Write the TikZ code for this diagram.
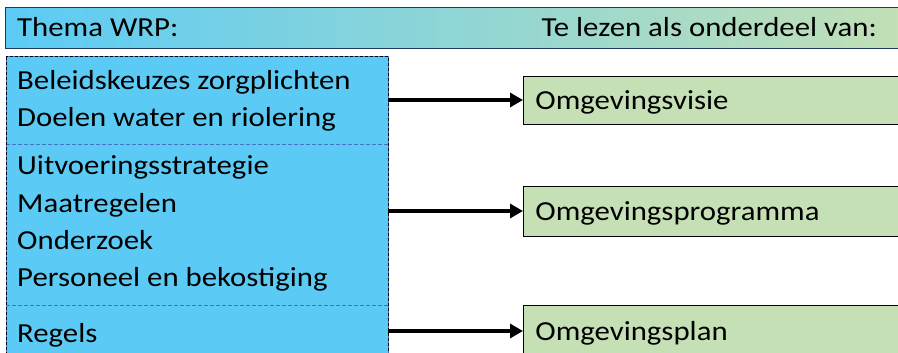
\documentclass[tikz,border=0pt]{standalone}
\usepackage{fontspec}
\setmainfont{Carlito}[FakeStretch=1.12]
\usetikzlibrary{arrows.meta}
\definecolor{skyfill}{HTML}{5BCBF5}
\definecolor{leaf}{HTML}{C5E0B4}
\definecolor{navy}{HTML}{1F3864}
\definecolor{divblue}{HTML}{4472C4}
\begin{document}
\begin{tikzpicture}[x=1pt,y=-1pt,
  txt/.style={anchor=base west, inner sep=0pt, font=\fontsize{27.5}{31}\selectfont},
  headbar/.style={draw=navy, line width=1.2pt, left color=skyfill, right color=leaf, minimum width=920pt, minimum height=41pt, anchor=north west, inner sep=0pt},
  section/.style={fill=skyfill, minimum width=382pt, anchor=north west, inner sep=0pt},
  divline/.style={draw=divblue, line width=1.2pt, dash pattern=on 4pt off 2pt},
  frameblue/.style={draw=divblue, line width=1pt},
  framedash/.style={draw=black, line width=1pt, dash pattern=on 3pt off 2pt},
  greenbox/.style={draw=black, line width=0.8pt, fill=leaf, anchor=west, inner xsep=12pt, inner ysep=0pt, text width=376pt, align=left, font=\fontsize{27.5}{31}\selectfont, text height=19pt, text depth=0pt},
  arr/.style={line width=3.5pt, -{Triangle[length=13pt,width=14pt]}}
]
\useasboundingbox (0,0) rectangle (898,353);
\clip (0,0) rectangle (898,353);
\fill[white] (0,0) rectangle (898,353);
% header
\node[headbar] (head) at (5,7) {};
\node[txt] (t1) at (17,37) {Thema WRP:};
\node[txt, anchor=base east] (t2) at (877,37) {Te lezen als onderdeel van:};
% left column
\node[section, minimum height=87pt] (s1) at (6,57) {};
\node[section, minimum height=161pt] (s2) at (6,144) {};
\node[section, minimum height=60pt] (s3) at (6,305) {};
\draw[divline] (s1.south west) -- (s1.south east);
\draw[divline] (s2.south west) -- (s2.south east);
\draw[frameblue] (s1.north west) rectangle (s3.south east);
\draw[framedash] (s1.north west) rectangle (s3.south east);
\node[txt] (l1) at (17,90) {Beleidskeuzes zorgplichten};
\node[txt] (l2) at (17,127) {Doelen water en riolering};
\node[txt] (l3) at (17,175) {Uitvoeringsstrategie};
\node[txt] (l4) at (17,212) {Maatregelen};
\node[txt] (l5) at (17,249) {Onderzoek};
\node[txt] (l6) at (17,286) {Personeel en bekostiging};
\node[txt] (l7) at (17,342) {Regels};
% right column
\node[greenbox, minimum height=48pt] (vis) at (523,100) {Omgevingsvisie};
\node[greenbox, minimum height=50pt] (prog) at (523,211) {Omgevingsprogramma};
\node[greenbox, minimum height=52pt] (plan) at (523,331) {Omgevingsplan};
% arrows
\draw[arr] (s1.east |- vis.west) -- (vis.west);
\draw[arr] (s2.east |- prog.west) -- (prog.west);
\draw[arr] (s3.east |- plan.west) -- (plan.west);
\end{tikzpicture}
\end{document}
